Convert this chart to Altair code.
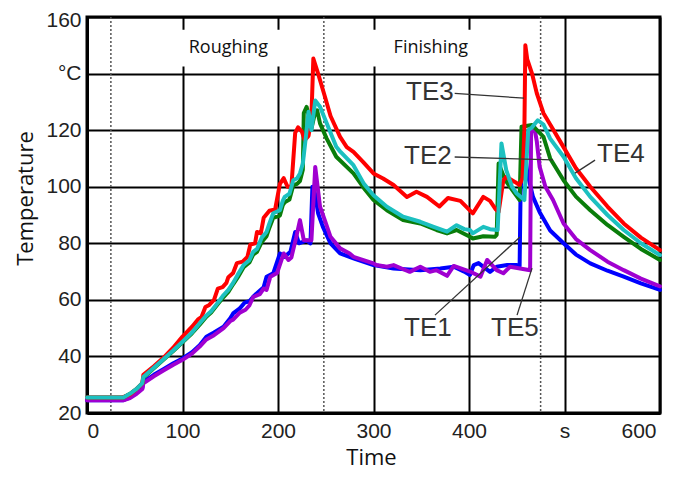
import altair as alt
import pandas as pd

# ---------------- data ----------------
te3_t = [0, 37, 45, 52, 58, 59, 70, 80, 90, 100, 110, 116, 120, 124, 128, 133, 137, 142, 146, 148, 153, 157, 163, 168,
         171, 176, 178, 182, 185, 191, 197, 202, 206, 210, 214, 218, 221, 225, 228, 232, 235, 237, 242, 249, 255, 265,
         272, 279, 289, 300, 310, 321, 335, 345, 356, 369, 378, 391, 404, 415, 422, 428, 431, 436, 439, 448, 453, 456,
         458, 459, 461, 462, 466, 471, 478, 485, 499, 512, 527, 545, 562, 580, 600]
te3_v = [25.5, 25.5, 26.5, 28.5, 30.5, 33.5, 36.5, 39.5, 43, 47, 50.5, 53, 54, 57.5, 58.2, 60, 64, 64.5, 66, 68, 69.5,
         73, 73.5, 75.2, 79.5, 80, 84, 83.5, 89, 91.5, 92, 101, 103, 100, 100, 119, 121, 119.5, 116.5, 118, 124.7, 145.3,
         140, 132, 125, 117.6, 114, 112.3, 108.8, 104.7, 102.9, 100.6, 96.4, 98.2, 96.4, 93, 96, 95, 90.6, 96.4, 95, 92,
         91.1, 102.3, 103.5, 101.7, 100.6, 103, 120, 150, 145, 144, 140, 133, 126, 122, 114, 106.5, 100, 93, 87, 82,
         77.6]

te4_t = [0, 38, 45, 52, 58, 59, 70, 80, 90, 100, 110, 118, 125, 130, 137, 143, 148, 153, 158, 164, 170, 174, 178, 183,
         188, 191, 195, 202, 205, 207, 212, 216, 220, 223, 226, 229, 232, 235, 239, 244, 251, 261, 265, 279, 290, 300,
         314, 331, 349, 363, 377, 387, 395, 401, 404, 415, 422, 430, 434, 439, 445, 450, 458, 462, 466, 472, 478, 485,
         499, 512, 527, 545, 562, 580, 600]
te4_v = [25.5, 25.5, 26.8, 28.5, 30.6, 32.7, 36, 39, 42, 45.2, 48.5, 51.7, 54.5, 56, 59, 61.7, 63.5, 66, 69, 72.3, 74,
         77, 78, 82, 84, 87, 90.6, 91.7, 95, 96.4, 97.5, 102.3, 103, 104.7, 108.2, 117, 126.5, 120, 130.5, 128.3, 122.4,
         114.1, 112.5, 107.6, 101, 97, 92.9, 89.4, 87.6, 85.8, 84.1, 86.4, 85, 84.7, 83.5, 85.8, 85, 84.7, 115.3, 105.9,
         100, 97.6, 95.3, 120, 121, 123.5, 122, 117, 110.6, 103, 96.4, 90, 84.7, 80, 75.8]

te2_t = [0, 38, 45, 52, 58, 59, 70, 80, 90, 100, 110, 118, 125, 130, 137, 143, 148, 153, 158, 164, 170, 174, 178, 183,
         188, 191, 195, 202, 205, 207, 212, 216, 220, 223, 226, 227, 230, 233, 235, 238, 241, 244, 251, 261, 279, 290,
         300, 314, 331, 349, 366, 377, 387, 401, 404, 415, 427, 429, 431, 438, 445, 453, 455, 466, 474, 478, 485, 499,
         512, 527, 545, 562, 580, 600]
te2_v = [25.5, 25.5, 26.8, 28.5, 30.6, 32.5, 35.8, 38.8, 41.8, 45, 48.2, 51.2, 54, 55.5, 58.5, 61, 62.8, 65.5, 68,
         71.5, 73.2, 76, 77, 80.5, 82.5, 85.5, 89, 89.8, 93.5, 94.5, 95.5, 100.5, 101, 102, 106, 126, 128.2, 124, 120.6,
         125, 127, 122.4, 117, 110.6, 104.7, 99.5, 95.3, 91.7, 88.2, 87, 84.7, 83.5, 84.7, 82.3, 81.7, 82.5, 82.3, 83,
         108.2, 102.3, 99, 95.3, 121.2, 121.8, 119, 117.6, 110, 102.3, 96.5, 91.7, 86.5, 82.3, 78, 74.1]

te1_t = [0, 38, 45, 52, 58, 59, 70, 80, 90, 100, 110, 118, 125, 133, 143, 150, 153, 160, 165, 170, 174, 180, 185, 188,
         195, 202, 207, 213, 218, 222, 230, 234, 236, 238, 242, 247, 255, 265, 279, 300, 321, 349, 370, 384, 395, 401,
         405, 410, 422, 429, 440, 450, 453, 454, 457, 461, 467, 474, 485, 499, 512, 527, 545, 562, 580, 600]
te1_v = [24.5, 24.5, 25.5, 27.2, 29, 31, 33.5, 35.5, 37.5, 39.3, 41.5, 44, 47, 48.5, 50.5, 53.5, 55.2, 57, 59, 59.5,
         61.1, 63, 64.5, 68.2, 69.4, 76.4, 75.2, 77, 84, 80, 81, 80, 100, 99, 90.6, 85.8, 80, 76.4, 74.7, 72.3, 71.1,
         70.5, 71.1, 71.7, 70, 68.8, 72.3, 73, 69.9, 71.7, 72.3, 72.3, 72, 98, 117, 105, 96.4, 91, 84.5, 80, 76, 72.9,
         70.3, 68.2, 65.8, 63.5]

te5_t = [0, 38, 45, 52, 58, 59, 70, 80, 90, 100, 110, 118, 125, 133, 143, 150, 153, 160, 166, 170, 174, 181, 185, 188,
         192, 199, 206, 211, 214, 219, 223, 227, 235, 239, 244, 249, 255, 265, 275, 279, 300, 303, 314, 321, 330, 338,
         349, 359, 366, 377, 384, 401, 412, 419, 429, 436, 443, 455, 464, 465, 468, 471, 474, 480, 488, 499, 512, 527,
         545, 562, 580, 600]
te5_v = [24.5, 24.5, 25.3, 26.8, 28.5, 30.5, 33, 35, 37, 38.8, 41, 43.5, 46, 47.5, 50, 52.5, 53, 55.5, 56.5, 58, 61,
         62, 64, 63.5, 68.2, 69.5, 76.4, 74.1, 75, 82, 88.2, 81.1, 81.1, 107, 92.9, 88.2, 82.3, 78.2, 76.4, 75.2, 72.9,
         72.3, 71.7, 72.3, 71, 69.9, 71.7, 69.9, 70.5, 68.5, 72, 70, 68.2, 74.1, 70.5, 69.4, 71.7, 71, 70.5, 119, 121.8,
         116, 107, 100, 95.3, 87, 81.5, 77.6, 73.5, 70.5, 67.5, 64.8]

x_ticks = [0, 100, 200, 300, 400, 500, 600]
y_ticks = [20, 40, 60, 80, 100, 120, 140, 160]
phase_lines = [25, 248, 475]

phase_names = ["Roughing", "Finishing"]
phase_x = [148, 360]
phase_box_x0 = [73, 286]
phase_box_x1 = [216, 425]
phase_box_y0 = [142.5, 142.5]
phase_box_y1 = [155.5, 155.5]
phase_label_y = [149, 149]

label_names = ["TE3", "TE2", "TE4", "TE1", "TE5"]
label_x = [359, 357, 559, 357, 448]
label_y = [133.4, 110.8, 111.5, 50, 50]
lead_x0 = [385, 385, 532, 364.4, 450.3]
lead_y0 = [133, 110.5, 109.4, 54.6, 54.6]
lead_x1 = [457.6, 488, 511, 453.4, 466]
lead_y1 = [131.3, 109.5, 104.8, 82.2, 71.2]

# draw order: first drawn = bottom
series = [
    ("TE1", te1_t, te1_v, "#0000ff"),
    ("TE5", te5_t, te5_v, "#a000d0"),
    ("TE2", te2_t, te2_v, "#0a7d0a"),
    ("TE3", te3_t, te3_v, "#ff0000"),
    ("TE4", te4_t, te4_v, "#1cc0c0"),
]

# ---------------- chart ----------------
xs = alt.Scale(domain=[0, 600], nice=False, zero=False)
ys = alt.Scale(domain=[20, 160], nice=False, zero=False)

x_axis = alt.Axis(
    values=x_ticks, labelExpr="datum.value == 500 ? 's' : datum.label",
    grid=True, gridColor="black", gridWidth=2, gridOpacity=1,
    domain=True, domainColor="black", domainWidth=3, ticks=False,
    labelFont="Liberation Sans", labelFontSize=21, labelColor="#222", labelPadding=7,
    labelOffset={"expr": "datum.value == 600 ? -4 : 0"},
    title="Time", titleFont="Open Sans", titleFontSize=22, titleFontWeight="normal", titleColor="#111",
    titleX=284, titleY=44, titleBaseline="middle", titleAlign="center",
)
y_axis = alt.Axis(
    values=y_ticks, labelExpr="datum.value == 140 ? '°C' : datum.label",
    grid=True, gridColor="black", gridWidth=2, gridOpacity=1,
    domain=True, domainColor="black", domainWidth=3, ticks=False,
    labelFont="Liberation Sans", labelFontSize=21, labelColor="#222", labelPadding=6,
    labelOffset={"expr": "datum.value == 160 ? 3 : 0"},
    title="Temperature", titleFont="Open Sans", titleFontSize=22, titleFontWeight="normal", titleColor="#111",
    titleX=-62, titleY=181, titleBaseline="middle", titleAlign="center", titleAngle=270,
)


def X(f):
    return alt.X(f, type="quantitative", scale=xs, axis=x_axis)


def Y(f):
    return alt.Y(f, type="quantitative", scale=ys, axis=y_axis)


boxes = pd.DataFrame({"x0": phase_box_x0, "x1": phase_box_x1, "y0": phase_box_y0, "y1": phase_box_y1})
box_layer = alt.Chart(boxes).mark_rect(fill="white").encode(
    x=X("x0"), x2="x1:Q", y=Y("y0"), y2="y1:Q",
)

dots = pd.DataFrame({"x": phase_lines})
dot_layer = alt.Chart(dots).mark_rule(color="#555", strokeWidth=1.5, strokeDash=[2, 2]).encode(
    x=X("x")
)

phase_df = pd.DataFrame({"name": phase_names, "x": phase_x, "y": phase_label_y})
phase_layer = alt.Chart(phase_df).mark_text(font="Open Sans", fontSize=18, color="#111",
                                            baseline="middle", align="center").encode(
    x=X("x"), y=Y("y"), text="name:N",
)

line_layers = []
for name, t, v, col in series:
    df = pd.DataFrame({"t": t, "v": v})
    line_layers.append(
        alt.Chart(df).mark_line(color=col, strokeWidth=4, strokeJoin="round", strokeCap="round").encode(
            x=X("t"), y=Y("v"), order="t:Q",
        )
    )

lead_df = pd.DataFrame({"x0": lead_x0, "y0": lead_y0, "x1": lead_x1, "y1": lead_y1})
lead_layer = alt.Chart(lead_df).mark_rule(color="#333", strokeWidth=1.3).encode(
    x=X("x0"), y=Y("y0"), x2="x1:Q", y2="y1:Q",
)

lab_df = pd.DataFrame({"name": label_names, "x": label_x, "y": label_y})
lab_layer = alt.Chart(lab_df).mark_text(font="Liberation Sans", fontSize=26, color="#333",
                                        baseline="middle", align="center").encode(
    x=X("x"), y=Y("y"), text="name:N",
)

chart = alt.layer(box_layer, dot_layer, phase_layer, *line_layers, lead_layer, lab_layer).properties(
    width=573, height=396,
    autosize=alt.AutoSizeParams(type="none"),
    padding={"left": 79, "top": 9, "right": 12, "bottom": 57},
    background="white",
).configure_view(stroke="black", strokeWidth=3)

chart.save("out.html", embed_options={"renderer": "svg", "actions": False})
